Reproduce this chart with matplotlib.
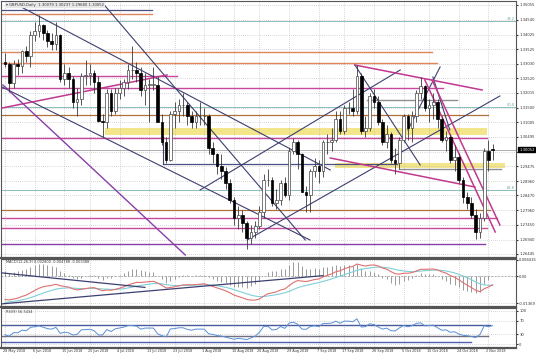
import numpy as np
import matplotlib.pyplot as plt

# GBPUSD daily candles, 28 May 2018 - 5 Nov 2018
opens = [1.3310, 1.3300, 1.3235, 1.3300, 1.3295, 1.3345, 1.3330, 1.3400, 1.3415, 1.3435,
         1.3410, 1.3380, 1.3370, 1.3400, 1.3250, 1.3270, 1.3250, 1.3170, 1.3180, 1.3260,
         1.3265, 1.3270, 1.3240, 1.3105, 1.3100, 1.3200, 1.3140, 1.3200, 1.3220, 1.3240,
         1.3280, 1.3280, 1.3270, 1.3210, 1.3230, 1.3230, 1.3230, 1.3100, 1.3030, 1.2970,
         1.3130, 1.3140, 1.3160, 1.3160, 1.3120, 1.3100, 1.3120, 1.3120, 1.3120, 1.3010,
         1.2990, 1.2950, 1.2930, 1.2890, 1.2830, 1.2770, 1.2780, 1.2750, 1.2700, 1.2720,
         1.2740, 1.2790, 1.2900, 1.2900, 1.2820, 1.2830, 1.2890, 1.2850, 1.3000, 1.3030,
         1.2990, 1.2860, 1.2850, 1.2930, 1.2950, 1.2930, 1.3030, 1.3030, 1.3040, 1.3110,
         1.3070, 1.3150, 1.3150, 1.3140, 1.3260, 1.3070, 1.3080, 1.3190, 1.3170, 1.3100,
         1.3030, 1.3060, 1.2970, 1.2960, 1.3040, 1.3120, 1.3080, 1.3120, 1.3200, 1.3225,
         1.3150, 1.3160, 1.3170, 1.3110, 1.3040, 1.3050, 1.2970, 1.2980, 1.2900, 1.2840,
         1.2820, 1.2780, 1.2720, 1.2770, 1.3000, 1.30079]
highs = [1.3340, 1.3310, 1.3315, 1.3320, 1.3350, 1.3365, 1.3415, 1.3445, 1.3472, 1.3440,
         1.3420, 1.3410, 1.3445, 1.3405, 1.3300, 1.3290, 1.3260, 1.3220, 1.3270, 1.3315,
         1.3300, 1.3280, 1.3260, 1.3130, 1.3215, 1.3215, 1.3220, 1.3245, 1.3250, 1.3300,
         1.3362, 1.3310, 1.3290, 1.3270, 1.3250, 1.3290, 1.3260, 1.3130, 1.3050, 1.3140,
         1.3170, 1.3180, 1.3200, 1.3170, 1.3140, 1.3140, 1.3170, 1.3150, 1.3130, 1.3030,
         1.2995, 1.2990, 1.2945, 1.2905, 1.2840, 1.2810, 1.2795, 1.2760, 1.2745, 1.2760,
         1.2810, 1.2920, 1.2940, 1.2910, 1.2870, 1.2900, 1.2910, 1.3010, 1.3045, 1.3040,
         1.2995, 1.2880, 1.2940, 1.2975, 1.2970, 1.3040, 1.3060, 1.3080, 1.3140, 1.3140,
         1.3160, 1.3170, 1.3215, 1.3298, 1.3270, 1.3120, 1.3200, 1.3215, 1.3190, 1.3110,
         1.3090, 1.3065, 1.3010, 1.3050, 1.3130, 1.3130, 1.3140, 1.3210, 1.3257, 1.3230,
         1.3180, 1.3200, 1.3180, 1.3120, 1.3070, 1.3060, 1.3020, 1.2995, 1.2910, 1.2860,
         1.2840, 1.2800, 1.2785, 1.3010, 1.3040, 1.30237]
lows = [1.3290, 1.3205, 1.3220, 1.3265, 1.3270, 1.3310, 1.3290, 1.3380, 1.3395, 1.3385,
        1.3360, 1.3350, 1.3350, 1.3240, 1.3230, 1.3220, 1.3150, 1.3120, 1.3160, 1.3230,
        1.3230, 1.3200, 1.3100, 1.3050, 1.3080, 1.3120, 1.3130, 1.3180, 1.3190, 1.3215,
        1.3250, 1.3240, 1.3190, 1.3160, 1.3100, 1.3210, 1.3100, 1.3020, 1.2958, 1.2965,
        1.3080, 1.3100, 1.3120, 1.3090, 1.3080, 1.3080, 1.3090, 1.3090, 1.2990, 1.2960,
        1.2920, 1.2905, 1.2870, 1.2820, 1.2745, 1.2730, 1.2720, 1.2662, 1.2680, 1.2700,
        1.2730, 1.2770, 1.2880, 1.2810, 1.2800, 1.2815, 1.2840, 1.2830, 1.2990, 1.2940,
        1.2860, 1.2790, 1.2790, 1.2910, 1.2890, 1.2910, 1.2990, 1.3000, 1.3030, 1.3060,
        1.3060, 1.3130, 1.3120, 1.3130, 1.3060, 1.3050, 1.3070, 1.3150, 1.3090, 1.3020,
        1.3010, 1.2960, 1.2920, 1.2940, 1.3030, 1.3040, 1.3030, 1.3100, 1.3180, 1.3140,
        1.3100, 1.3110, 1.3080, 1.3030, 1.3000, 1.2960, 1.2930, 1.2890, 1.2820, 1.2800,
        1.2770, 1.2695, 1.2700, 1.2760, 1.2930, 1.29680]
closes = [1.3300, 1.3235, 1.3300, 1.3295, 1.3345, 1.3330, 1.3400, 1.3415, 1.3435, 1.3410,
          1.3380, 1.3370, 1.3400, 1.3250, 1.3270, 1.3250, 1.3170, 1.3180, 1.3260, 1.3265,
          1.3270, 1.3240, 1.3105, 1.3100, 1.3200, 1.3140, 1.3200, 1.3220, 1.3240, 1.3280,
          1.3280, 1.3270, 1.3210, 1.3230, 1.3230, 1.3230, 1.3100, 1.3030, 1.2970, 1.3130,
          1.3140, 1.3160, 1.3160, 1.3120, 1.3100, 1.3120, 1.3120, 1.3120, 1.3010, 1.2990,
          1.2950, 1.2930, 1.2890, 1.2830, 1.2770, 1.2780, 1.2750, 1.2700, 1.2720, 1.2740,
          1.2790, 1.2900, 1.2900, 1.2820, 1.2830, 1.2890, 1.2850, 1.3000, 1.3030, 1.2990,
          1.2860, 1.2850, 1.2930, 1.2950, 1.2930, 1.3030, 1.3030, 1.3040, 1.3110, 1.3070,
          1.3150, 1.3150, 1.3140, 1.3260, 1.3070, 1.3080, 1.3190, 1.3170, 1.3100, 1.3030,
          1.3060, 1.2970, 1.2960, 1.3040, 1.3120, 1.3080, 1.3120, 1.3200, 1.3225, 1.3150,
          1.3160, 1.3170, 1.3110, 1.3040, 1.3050, 1.2970, 1.2980, 1.2900, 1.2840, 1.2820,
          1.2780, 1.2720, 1.2770, 1.3000, 1.2970, 1.30052]

date_bars = [0, 7, 14, 20, 27, 34, 40, 47, 54, 60, 67, 74, 80, 87, 94, 100, 107, 114]
date_labels = ['28 May 2018', '6 Jun 2018', '15 Jun 2018', '25 Jun 2018', '4 Jul 2018',
               '13 Jul 2018', '23 Jul 2018', '1 Aug 2018', '10 Aug 2018', '20 Aug 2018',
               '29 Aug 2018', '7 Sep 2018', '17 Sep 2018', '26 Sep 2018', '5 Oct 2018',
               '15 Oct 2018', '24 Oct 2018', '2 Nov 2018']
price_ticks = [1.35055, 1.34540, 1.34025, 1.33525, 1.33030, 1.32520, 1.32015, 1.31500,
               1.31005, 1.30495, 1.29985, 1.29475, 1.28960, 1.28470, 1.27960, 1.27450,
               1.26940, 1.26445]
last_price = 1.30052

# horizontal levels drawn on the chart: price, first bar, last bar
orange_levels = [(1.34744, -1, 34.7), (1.33430, -1, 100.7), (1.33049, -1, 101.9)]
magenta_levels = [(1.32600, -1, 40.6), (1.32185, -1, 103.3), (1.30456, -1, 113.7),
                  (1.27690, -1, 116.0), (1.27344, -1, 113.7)]
brown_levels = [(1.31251, -1, 114.0), (1.27966, -1, 114.4)]
navy_levels = [(1.34882, -1, 34.7), (1.29557, 37.3, 92.5)]
gray_levels = [(1.31770, 85.4, 106.6), (1.29384, 93.0, 117.0)]
purple_levels = [(1.26791, -1, 113.2)]
fib_levels = [('38.2', 1.34502), ('50.0', 1.31528), ('61.8', 1.28658)]
yellow_zones = [(1.30560, 1.30802, 23.6, 113.7), (1.29418, 1.29591, 77.8, 118.0)]

# trend lines: (bar0, price0, bar1, price1)
navy_trends = [(0.7, 1.35228, 76.7, 1.29349), (22.4, 1.35228, 70.8, 1.26929),
               (-0.7, 1.32219, 71.9, 1.26929), (57.1, 1.26929, 116.7, 1.31909),
               (37.3, 1.30491, 37.3, 1.29557), (46.0, 1.28658, 93.2, 1.32808),
               (82.5, 1.32980, 97.9, 1.29522), (95.0, 1.30733, 102.6, 1.32911),
               (100.9, 1.32565, 104.9, 1.30733)]
magenta_trends = [(-0.7, 1.31493, 38.2, 1.32634), (82.5, 1.32980, 112.5, 1.32116),
                  (76.7, 1.29764, 110.8, 1.28761), (99.0, 1.32462, 115.6, 1.27205),
                  (100.7, 1.32462, 116.7, 1.27447)]
purple_trends = [(-0.5, 1.32289, 42.5, 1.26410)]
macd_trends = [(-1.2, 0.0019, 33.0, -0.00563), (-1.2, -0.01418, 75.0, 0.0004)]
rsi_levels = [(57.6, '#4a5a9a', 114.4), (24.2, '#707080', 114.0), (6.0, '#5060b0', 110.0)]

closes_arr = np.array(closes)
n = len(closes)
x = np.arange(n)

ema12, ema26, sig = 1.3390, 1.3510, -0.0137
macd, signal = [], []
for c in closes_arr:
    ema12 += 2 / 13 * (c - ema12)
    ema26 += 2 / 27 * (c - ema26)
    m = ema12 - ema26
    sig += 2 / 10 * (m - sig)
    macd.append(m)
    signal.append(sig)
macd = np.array(macd)
signal = np.array(signal)
hist = 2 * (macd - signal)

# RSI 9 (Wilder), seeded from the left edge
ag, al = 0.0015, 0.0035
rsi = []
prev = 1.3330
for c in closes_arr:
    d = c - prev
    ag = (ag * 8 + max(d, 0)) / 9
    al = (al * 8 + max(-d, 0)) / 9
    rsi.append(100 - 100 / (1 + ag / al))
    prev = c
rsi = np.array(rsi)

W, H = 536, 358
fig = plt.figure(figsize=(W / 100, H / 100), dpi=100)
fig.patch.set_facecolor('white')
plot_right = 516 / W
ax = fig.add_axes([1 / W, 1 - 258 / H, plot_right - 1 / W, 257 / H])
ax2 = fig.add_axes([1 / W, 1 - 307 / H, plot_right - 1 / W, 48 / H])
ax3 = fig.add_axes([1 / W, 1 - 348 / H, plot_right - 1 / W, 40 / H])

xlim = (-0.95, 120.5)
for a in (ax, ax2, ax3):
    a.set_xlim(*xlim)
    a.set_xticks(date_bars)
    a.tick_params(axis='x', length=0, labelbottom=False)
    a.yaxis.tick_right()
    a.tick_params(axis='y', length=1.5, labelsize=2.7, colors='#333333', pad=0.8)
    a.grid(True, color='#b0b0b0', linestyle=(0, (1, 2)), linewidth=0.5)
    for s in a.spines.values():
        s.set_color('#555555')
        s.set_linewidth(0.8)
    a.spines['bottom'].set_linewidth(1.6)

# ---- main panel ----
ax.set_ylim(1.26306, 1.35193)
ax.set_yticks(price_ticks)
ax.set_yticklabels(['' if abs(p - 1.29985) < 1e-6 else f'{p:.5f}' for p in price_ticks])

for lo, hi, b0, b1 in yellow_zones:
    ax.fill_between([b0, b1], lo, hi, color='#f3e58a', lw=0, zorder=1)
for p, b0, b1 in orange_levels:
    ax.plot([b0, b1], [p, p], color='#e0855a', lw=1.0, zorder=2)
for p, b0, b1 in magenta_levels:
    ax.plot([b0, b1], [p, p], color='#c8489e', lw=1.0, zorder=2)
for p, b0, b1 in brown_levels:
    ax.plot([b0, b1], [p, p], color='#b0703a', lw=0.9, zorder=2)
for p, b0, b1 in navy_levels:
    ax.plot([b0, b1], [p, p], color='#4a4e80', lw=0.9, zorder=2)
for p, b0, b1 in gray_levels:
    ax.plot([b0, b1], [p, p], color='#909090', lw=1.0, zorder=2)
for p, b0, b1 in purple_levels:
    ax.plot([b0, b1], [p, p], color='#8a3fa8', lw=1.0, zorder=2)
for lab, p in fib_levels:
    ax.plot(xlim, [p, p], color='#8cbcbc', lw=0.7, zorder=2)
    ax.text(120.2, p, lab, fontsize=2.6, color='#6aa0a0', ha='right', va='bottom')

for b0, p0, b1, p1 in navy_trends:
    ax.plot([b0, b1], [p0, p1], color='#3c3f70', lw=0.8, zorder=3)
for b0, p0, b1, p1 in magenta_trends:
    ax.plot([b0, b1], [p0, p1], color='#c0388f', lw=1.1, zorder=3)
for b0, p0, b1, p1 in purple_trends:
    ax.plot([b0, b1], [p0, p1], color='#8a3fa8', lw=1.0, zorder=3)

o = np.array(opens)
c = closes_arr
up = c >= o
ax.vlines(x, lows, highs, color='#3a3a3a', lw=0.6, zorder=4)
ax.bar(x[up], np.maximum(c[up] - o[up], 0.00008), bottom=o[up], width=0.62,
       color='white', edgecolor='#444444', linewidth=0.5, zorder=5)
ax.bar(x[~up], o[~up] - c[~up], bottom=c[~up], width=0.62,
       color='black', edgecolor='black', linewidth=0.5, zorder=5)

ax.text(0.3, 1.3506, '\u25be GBPUSD,Daily  1.30079 1.30237 1.29680 1.30052',
        fontsize=2.7, color='#333333', va='center',
        bbox=dict(boxstyle='square,pad=0.2', fc='#e8e8e8', ec='none'))
ax.annotate(f'{last_price:.5f}', xy=(1, last_price), xycoords=('axes fraction', 'data'),
            xytext=(2.2, 0), textcoords='offset points', fontsize=2.7, color='white',
            va='center', ha='left',
            bbox=dict(boxstyle='square,pad=0.15', fc='black', ec='black'))
ax.axhline(last_price, color='#909090', lw=0.5, zorder=2)

# ---- MACD panel ----
ax2.set_ylim(-0.0157, 0.00894)
ax2.set_yticks([0.008435, 0.0, -0.01369])
ax2.set_yticklabels(['0.008435', '0.00', '-0.01369'])
ax2.axhline(0, color='#a0a0a0', lw=0.6, linestyle=(0, (2, 2)))
ax2.vlines(x, 0, hist, color='#9a9a9a', lw=0.7, zorder=2)
ax2.plot(x, signal, color='#7fd0d8', lw=0.8, zorder=3)
ax2.plot(x, macd, color='#e07070', lw=0.8, zorder=4)
for b0, p0, b1, p1 in macd_trends:
    ax2.plot([b0, b1], [p0, p1], color='#3c3f70', lw=0.9, zorder=5)
ax2.text(0.3, 0.0072, 'MACD(12,26,9) 0.002800 -0.004788 -0.003388',
         fontsize=2.5, color='#333333', va='center')

# ---- RSI panel ----
ax3.set_ylim(-12, 109)
ax3.set_yticks([100, 70, 30, 0])
ax3.set_yticklabels(['100', '70', '30', '0'])
for lvl, col, b1 in rsi_levels:
    ax3.plot([-1, b1], [lvl, lvl], color=col, lw=1.0, zorder=2)
ax3.plot(x, rsi, color='#5a8fd8', lw=0.7, zorder=3)
ax3.text(0.3, 96, 'RSI(9) 56.5434', fontsize=2.5, color='#333333', va='center')

for b, lab in zip(date_bars, date_labels):
    ax3.text(b - 0.5, -16, lab, fontsize=2.4, color='#333333', ha='left', va='top',
             clip_on=False)

fig.savefig('out.png', dpi=100)
